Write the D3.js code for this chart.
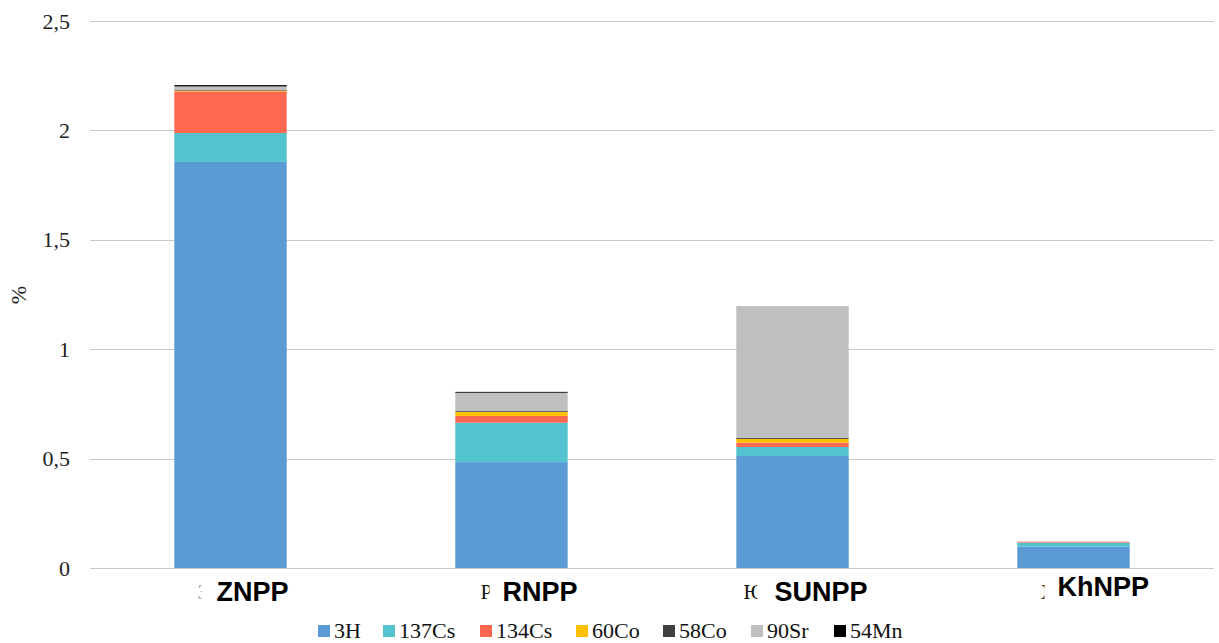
<!DOCTYPE html>
<html><head><meta charset="utf-8">
<script src="https://cdn.jsdelivr.net/npm/d3@7"></script>
<style>body{margin:0;background:#fff}svg{display:block}</style>
</head><body>
<svg id="c" width="1219" height="643"></svg>
<script>
const categories = ["ZNPP", "RNPP", "SUNPP", "KhNPP"];
const origInitials = ["З", "Р", "Ю", "Х"];
const seriesNames = ["3H", "137Cs", "134Cs", "60Co", "58Co", "90Sr", "54Mn"];
const v3H    = [1.856, 0.484, 0.512, 0.098];
const v137Cs = [0.132, 0.180, 0.041, 0.018];
const v134Cs = [0.190, 0.031, 0.020, 0.004];
const v60Co  = [0.004, 0.018, 0.017, 0.000];
const v58Co  = [0.004, 0.004, 0.005, 0.000];
const v90Sr  = [0.015, 0.084, 0.602, 0.000];
const v54Mn  = [0.006, 0.004, 0.000, 0.000];
const yTicks = [0, 0.5, 1, 1.5, 2, 2.5];
const colors = ["#5B9BD5", "#53C3CF", "#FF6850", "#FFC000", "#404040", "#BFBFBF", "#000000"];

const seriesVals = [v3H, v137Cs, v134Cs, v60Co, v58Co, v90Sr, v54Mn];
const rows = categories.map((c, i) => {
  const r = {cat: c};
  seriesNames.forEach((s, j) => r[s] = seriesVals[j][i]);
  return r;
});
const stacked = d3.stack().keys(seriesNames)(rows);

const svg = d3.select("#c");
const defs = svg.append("defs");
const x = d3.scaleBand().domain(categories).range([90, 1214]).paddingInner(0.6).paddingOuter(0.3);
const y = d3.scaleLinear().domain([0, 2.5]).range([568, 21]);
const fmt = d => String(d).replace(".", ",");

// gridlines
svg.append("g").selectAll("line").data(yTicks).join("line")
  .attr("x1", 90).attr("x2", 1214)
  .attr("y1", d => Math.round(y(d)) + 0.5).attr("y2", d => Math.round(y(d)) + 0.5)
  .attr("stroke", "#c8c8c8").attr("stroke-width", 1);

// y axis labels
const yAxis = d3.axisLeft(y).tickValues(yTicks).tickFormat(fmt).tickSize(0).tickPadding(0);
const ga = svg.append("g").attr("transform", "translate(70,0)").call(yAxis);
ga.select(".domain").remove();
ga.selectAll("text").attr("font-family", "Liberation Serif, Times New Roman, serif")
  .attr("font-size", 22).attr("fill", "#222");

svg.append("text").attr("transform", "translate(26,295) rotate(-90)")
  .attr("text-anchor", "middle").attr("font-family", "Liberation Serif, serif")
  .attr("font-size", 22).attr("fill", "#222").text("%");

// bars
svg.append("g").selectAll("g").data(stacked).join("g")
  .attr("fill", (d, i) => colors[i])
  .selectAll("rect").data(d => d).join("rect")
  .attr("x", d => x(d.data.cat))
  .attr("width", x.bandwidth())
  .attr("y", d => y(d[1]))
  .attr("height", d => Math.max(0, y(d[0]) - y(d[1])));

// x labels: clipped remnant of original serif initial + bold label
const lab = svg.append("g");
const initOff = [-33, -31, -49, -33];
const clipW = [4, 9, 14, 4];
const boldOff = [-14, -9, -18, -16];
categories.forEach((c, i) => {
  const cx = x(c) + x.bandwidth() / 2;
  defs.append("clipPath").attr("id", "cl" + i).append("rect")
    .attr("x", cx + initOff[i]).attr("y", 576).attr("width", clipW[i]).attr("height", 30);
  lab.append("text").attr("x", cx + initOff[i]).attr("y", 599)
    .attr("clip-path", `url(#cl${i})`)
    .attr("font-family", "Liberation Serif, serif").attr("font-size", 21)
    .attr("fill", i === 0 ? "#999" : "#111").text(origInitials[i]);
  lab.append("text").attr("x", cx + boldOff[i]).attr("y", i === 3 ? 596 : 601)
    .attr("font-family", "Liberation Sans, Arial, sans-serif").attr("font-weight", "bold")
    .attr("font-size", 27).attr("fill", "#000").text(c);
});

// legend
const legX = [318, 383, 480, 576, 663, 751, 834];
const leg = svg.append("g");
seriesNames.forEach((s, i) => {
  leg.append("rect").attr("x", legX[i]).attr("y", 625).attr("width", 12).attr("height", 12)
    .attr("fill", colors[i]);
  leg.append("text").attr("x", legX[i] + 16).attr("y", 638)
    .attr("font-family", "Liberation Serif, serif").attr("font-size", 22)
    .attr("fill", "#111").text(s);
});
</script>
</body></html>
